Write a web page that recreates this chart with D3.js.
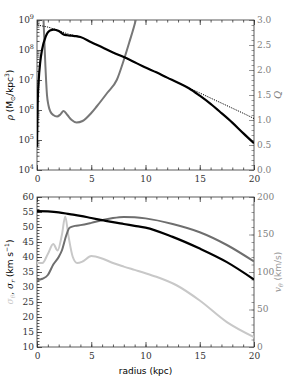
<!DOCTYPE html>
<html>
<head>
<meta charset="utf-8">
<script src="https://cdn.jsdelivr.net/npm/d3@7"></script>
<style>
  body { margin: 0; background: #fff; }
  .tick text { font-family: "DejaVu Serif", serif; font-size: 9px; }
  .lab { font-family: "DejaVu Sans", sans-serif; font-size: 9px; }
</style>
</head>
<body>
<div id="chart"></div>
<script>
// top panel: density (M_sun/kpc^3) and Toomre Q
const rhoRadius = [0, 0.06, 0.15, 0.3, 0.46, 0.8, 1.2, 1.55, 2, 2.45, 2.8, 3.2, 3.6, 4, 5, 6, 7, 8, 9, 10, 11, 12, 13, 14, 15, 16, 17, 18, 19, 20];
const rhoModel = [5.9e4, 1.5e6, 8.7e6, 4.0e7, 1.0e8, 2.8e8, 4.5e8, 4.8e8, 4.3e8, 3.3e8, 3.1e8, 3.0e8, 2.9e8, 2.7e8, 1.8e8, 1.23e8, 8.3e7, 5.8e7, 3.9e7, 2.6e7, 1.8e7, 1.2e7, 8.1e6, 5.3e6, 3.0e6, 1.6e6, 7.9e5, 3.8e5, 1.7e5, 7.8e4];
const diskRadius = [0.05, 0.5, 1, 1.5, 2, 2.5, 3, 4, 5, 6, 7, 8, 9, 10, 11, 12, 13, 14, 15, 16, 17, 18, 19, 20];
const rhoDisk = [6.8e8, 6.3e8, 5.8e8, 5.1e8, 4.5e8, 3.8e8, 3.3e8, 2.7e8, 1.8e8, 1.23e8, 8.3e7, 5.8e7, 3.9e7, 2.6e7, 1.8e7, 1.2e7, 8.1e6, 5.5e6, 3.7e6, 2.5e6, 1.7e6, 1.15e6, 7.8e5, 5.2e5];
const qRadius = [0.5, 0.6, 0.77, 0.92, 1.05, 1.23, 1.5, 1.85, 2.15, 2.45, 2.8, 3.2, 3.65, 4.2, 5, 5.5, 6.5, 7.35, 8, 8.5, 9.1, 9.4];
const qValues = [3.6, 3.0, 2.1, 1.5, 1.3, 1.17, 1.1, 1.07, 1.11, 1.18, 1.1, 1.0, 0.95, 0.98, 1.14, 1.27, 1.55, 1.8, 2.2, 2.55, 3.0, 3.3];

// bottom panel: dispersions (km/s, left) and rotation speed (km/s, right)
const sigRRadius = [0, 1, 2, 3, 4, 5, 6, 7, 8, 9, 10, 12.5, 15, 17.5, 20];
const sigmaR = [55.3, 55.2, 54.9, 54.3, 53.7, 53.0, 52.3, 51.6, 51.0, 50.4, 49.8, 46.7, 42.8, 38.3, 32.5];
const sigThRadius = [0, 0.5, 1, 1.5, 1.9, 2.3, 2.6, 2.9, 3.3, 3.7, 4.2, 5, 6, 7, 8, 9, 10, 11, 12.9, 15, 17.5, 20];
const sigmaTheta = [38, 38, 41, 44.3, 42.2, 47.5, 53.5, 47, 40, 38, 38.5, 40.3, 39.5, 38, 36.8, 35.7, 34.6, 33.4, 30.5, 25.5, 18.3, 13.3];
const vRadius = [0, 0.5, 1, 1.5, 2, 2.3, 2.7, 3, 3.5, 4, 5, 6, 7, 8, 9, 10, 12.5, 15, 17.5, 20];
const vTheta = [89, 91, 96, 110, 120, 129, 149, 159, 161.5, 162.5, 165.5, 169, 172, 173.5, 173, 171.5, 164, 153, 136, 114];

const radiusTicks = [0, 5, 10, 15, 20];
const rhoTicks = [1e4, 1e5, 1e6, 1e7, 1e8, 1e9];
const qTicks = [0, 0.5, 1, 1.5, 2, 2.5, 3];
const sigmaTicks = [10, 15, 20, 25, 30, 35, 40, 45, 50, 55, 60];
const vTicks = [0, 50, 100, 150, 200];

const width = 293, height = 377;
const left = 37, right = 254;
const top1 = 20, bot1 = 170, top2 = 197, bot2 = 347;
const frameColor = "#333", rightColor = "#808080";

const svg = d3.select("#chart").append("svg")
  .attr("width", width)
  .attr("height", height);

const x = d3.scaleLinear([0, 20], [left, right]);
const yRho = d3.scaleLog([1e4, 1e9], [bot1, top1]);
const yQ = d3.scaleLinear([0, 3], [bot1, top1]);
const ySig = d3.scaleLinear([10, 60], [bot2, top2]);
const yV = d3.scaleLinear([0, 200], [bot2, top2]);

const defs = svg.append("defs");
[[top1, bot1, "clipTop"], [top2, bot2, "clipBot"]].forEach(([t, b, id]) => {
  defs.append("clipPath").attr("id", id)
    .append("rect").attr("x", left).attr("y", t).attr("width", right - left).attr("height", b - t);
});

function minorRange(a, b, step) {
  return d3.range(a, b + step / 2, step);
}

// draw ticks (inward) on a panel
function drawAxis(axis, tx, ty, color) {
  const g = svg.append("g").attr("transform", `translate(${tx},${ty})`).call(axis);
  g.select(".domain").remove();
  g.selectAll("line").attr("stroke", color).attr("stroke-width", 0.8);
  g.selectAll("text").attr("fill", color);
  return g;
}

function panelAxes(t, b, yLeft, yRight, leftMajor, leftMinor, rightMajor, rightMinor, leftFmt, rightFmt) {
  // x bottom + top
  drawAxis(d3.axisBottom(x).tickValues(radiusTicks).tickSize(-5).tickPadding(6).tickFormat(d3.format("d")), 0, b, frameColor);
  drawAxis(d3.axisBottom(x).tickValues(minorRange(0, 20, 1)).tickSize(-2.5).tickFormat(""), 0, b, frameColor);
  drawAxis(d3.axisTop(x).tickValues(radiusTicks).tickSize(-5).tickFormat(""), 0, t, frameColor);
  drawAxis(d3.axisTop(x).tickValues(minorRange(0, 20, 1)).tickSize(-2.5).tickFormat(""), 0, t, frameColor);
  // left
  const gl = drawAxis(d3.axisLeft(yLeft).tickValues(leftMajor).tickSize(-5).tickPadding(3).tickFormat(leftFmt), left, 0, frameColor);
  drawAxis(d3.axisLeft(yLeft).tickValues(leftMinor).tickSize(-2.5).tickFormat(""), left, 0, frameColor);
  // right
  const gr = drawAxis(d3.axisRight(yRight).tickValues(rightMajor).tickSize(-5).tickPadding(3).tickFormat(rightFmt), right, 0, rightColor);
  gr.selectAll(".tick text").attr("dy", "0.25em");
  drawAxis(d3.axisRight(yRight).tickValues(rightMinor).tickSize(-2.5).tickFormat(""), right, 0, rightColor);
  svg.append("rect")
    .attr("x", left).attr("y", t)
    .attr("width", right - left).attr("height", b - t)
    .attr("fill", "none").attr("stroke", frameColor).attr("stroke-width", 0.8);
  return gl;
}

/**
 * Top panel
 */
const rhoMinor = [];
for (let e = 4; e < 9; e++) for (let m = 2; m < 10; m++) rhoMinor.push(m * Math.pow(10, e));

const glTop = panelAxes(top1, bot1, yRho, yQ, rhoTicks, rhoMinor, qTicks, minorRange(0, 3, 0.1), d => "", d3.format(".1f"));
glTop.selectAll(".tick text").each(function(d) {
  const t = d3.select(this);
  t.text("10");
  t.append("tspan").attr("dy", -4).style("font-size", "6.5px").text(Math.round(Math.log10(d)));
});

const topLayer = svg.append("g").attr("clip-path", "url(#clipTop)");

const lineRho = d3.line().x(d => x(d[0])).y(d => yRho(d[1])).curve(d3.curveMonotoneX);
const lineQ = d3.line().x(d => x(d[0])).y(d => yQ(d[1])).curve(d3.curveMonotoneX);

topLayer.append("path")
  .attr("d", lineQ(d3.zip(qRadius, qValues)))
  .attr("fill", "none").attr("stroke", "#777").attr("stroke-width", 2);

topLayer.append("path")
  .attr("d", lineRho(d3.zip(diskRadius, rhoDisk)))
  .attr("fill", "none").attr("stroke", "#000").attr("stroke-width", 1)
  .attr("stroke-dasharray", "1.2,1.2");

topLayer.append("path")
  .attr("d", lineRho(d3.zip(rhoRadius, rhoModel)))
  .attr("fill", "none").attr("stroke", "#000").attr("stroke-width", 2.2);

// labels
const rhoLab = svg.append("text").attr("class", "lab")
  .attr("transform", `translate(13,${(top1 + bot1) / 2}) rotate(-90)`)
  .attr("text-anchor", "middle");
rhoLab.append("tspan").style("font-family", "DejaVu Serif, serif").style("font-style", "italic").text("ρ");
rhoLab.append("tspan").text(" (M");
rhoLab.append("tspan").attr("dy", 2).style("font-size", "6px").text("⊙");
rhoLab.append("tspan").attr("dy", -2).text("/kpc");
rhoLab.append("tspan").attr("dy", -4).style("font-size", "6px").text("3");
rhoLab.append("tspan").attr("dy", 4).text(")");

svg.append("text")
  .attr("transform", `translate(281,${(top1 + bot1) / 2}) rotate(-90)`)
  .attr("text-anchor", "middle")
  .style("font-family", "DejaVu Serif, serif").style("font-style", "italic").style("font-size", "10px")
  .attr("fill", "#777")
  .text("Q");

/**
 * Bottom panel
 */
panelAxes(top2, bot2, ySig, yV, sigmaTicks, minorRange(10, 60, 1), vTicks, minorRange(0, 200, 10), d3.format("d"), d3.format("d"));

const botLayer = svg.append("g").attr("clip-path", "url(#clipBot)");
const lineSig = d3.line().x(d => x(d[0])).y(d => ySig(d[1])).curve(d3.curveMonotoneX);
const lineV = d3.line().x(d => x(d[0])).y(d => yV(d[1])).curve(d3.curveMonotoneX);

botLayer.append("path")
  .attr("d", lineSig(d3.zip(sigThRadius, sigmaTheta)))
  .attr("fill", "none").attr("stroke", "#c8c8c8").attr("stroke-width", 2);

botLayer.append("path")
  .attr("d", lineV(d3.zip(vRadius, vTheta)))
  .attr("fill", "none").attr("stroke", "#6e6e6e").attr("stroke-width", 2);

botLayer.append("path")
  .attr("d", lineSig(d3.zip(sigRRadius, sigmaR)))
  .attr("fill", "none").attr("stroke", "#000").attr("stroke-width", 2.2);

const sigLab = svg.append("text").attr("class", "lab")
  .attr("transform", `translate(13,${(top2 + bot2) / 2}) rotate(-90)`)
  .attr("text-anchor", "middle");
sigLab.append("tspan").attr("fill", "#c8c8c8").style("font-family", "DejaVu Serif, serif").style("font-style", "italic").text("σ");
sigLab.append("tspan").attr("fill", "#c8c8c8").attr("dy", 2).style("font-size", "6px").style("font-family", "DejaVu Serif, serif").style("font-style", "italic").text("θ");
sigLab.append("tspan").attr("dy", -2).style("font-family", "DejaVu Serif, serif").text(", ");
sigLab.append("tspan").style("font-family", "DejaVu Serif, serif").style("font-style", "italic").text("σ");
sigLab.append("tspan").attr("dy", 2).style("font-size", "6px").style("font-family", "DejaVu Serif, serif").style("font-style", "italic").text("r");
sigLab.append("tspan").attr("dy", -2).text(" (km s");
sigLab.append("tspan").attr("dy", -4).style("font-size", "6px").text("−1");
sigLab.append("tspan").attr("dy", 4).text(")");

const vLab = svg.append("text").attr("class", "lab")
  .attr("transform", `translate(281,${(top2 + bot2) / 2}) rotate(-90)`)
  .attr("text-anchor", "middle")
  .attr("fill", "#999");
vLab.append("tspan").style("font-family", "DejaVu Serif, serif").style("font-style", "italic").text("v");
vLab.append("tspan").attr("dy", 2).style("font-size", "6px").style("font-family", "DejaVu Serif, serif").style("font-style", "italic").text("θ");
vLab.append("tspan").attr("dy", -2).text(" (km/s)");

svg.append("text").attr("class", "lab")
  .attr("x", (left + right) / 2).attr("y", 374)
  .attr("text-anchor", "middle")
  .text("radius (kpc)");
</script>
</body>
</html>
